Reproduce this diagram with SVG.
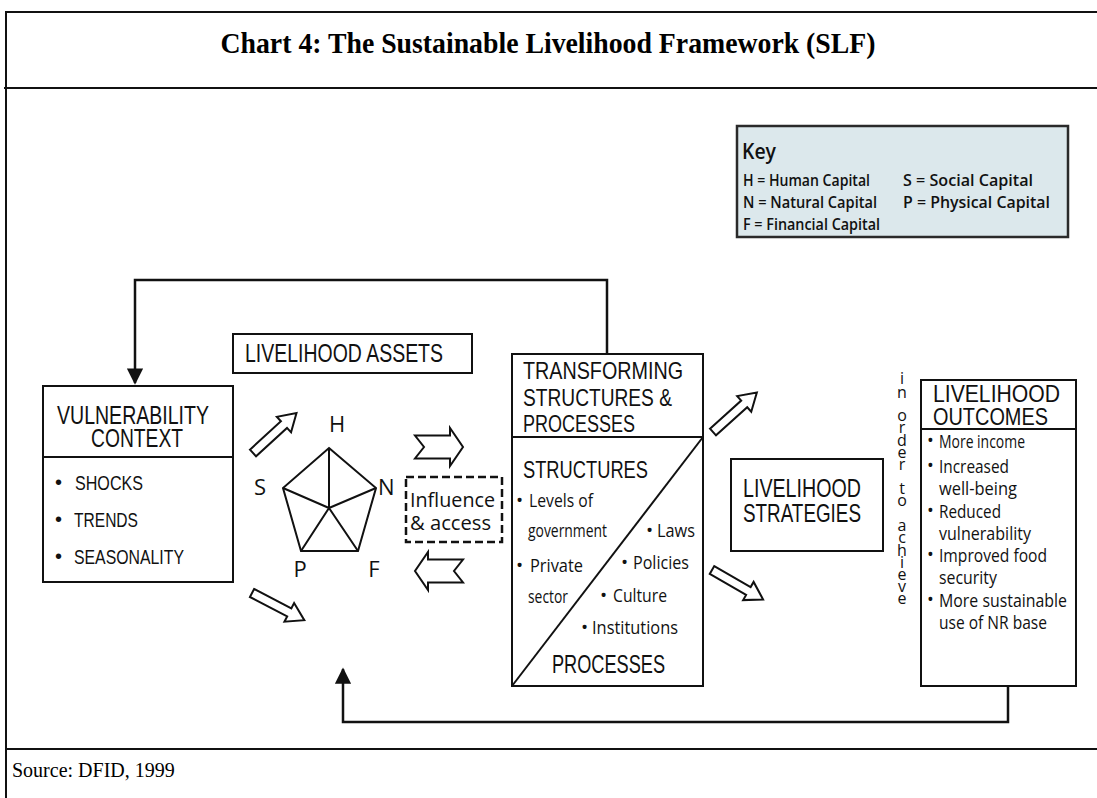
<svg xmlns="http://www.w3.org/2000/svg" width="1097" height="798" viewBox="0 0 1097 798">
<style>
.frame{stroke:#111;stroke-width:2;fill:none}
.box{fill:#fff;stroke:#111;stroke-width:2}
.hd{font-family:"Liberation Sans Narrow","Liberation Sans",Arial,sans-serif;fill:#111}
.tx{font-family:"Open Sans","Noto Sans",sans-serif;fill:#111}
.conn{fill:none;stroke:#111;stroke-width:2.5}
.blk{fill:#fff;stroke:#111;stroke-width:2;stroke-linejoin:miter}
.ln{stroke:#111;stroke-width:2;fill:none}
</style>
<defs>
<marker id="ah" viewBox="0 0 10 10" refX="9" refY="5" markerWidth="6.5" markerHeight="6.5" orient="auto" markerUnits="strokeWidth">
<path d="M0,0 L10,5 L0,10 Z" fill="#111"/>
</marker>
<path id="darrow" d="M0,-4.5 H42 V-10.5 L59,0 L42,10.5 V4.5 H0 Z"/>
<path id="chev" d="M0,-11.5 H35 V-19 L48,0 L35,19 V11.5 H0 L9,0 Z"/>
</defs>
<rect width="1097" height="798" fill="#fff"/>

<g id="frame">
<line class="frame" x1="6" y1="12" x2="1097" y2="12"/>
<line class="frame" x1="6" y1="11" x2="6" y2="798"/>
<line class="frame" x1="4" y1="88" x2="1097" y2="88"/>
<line class="frame" x1="6" y1="749" x2="1097" y2="749"/>
<text x="548" y="53" text-anchor="middle" font-family="'Liberation Serif','Times New Roman',serif" font-weight="bold" font-size="30" textLength="655" lengthAdjust="spacingAndGlyphs" fill="#000">Chart 4: The Sustainable Livelihood Framework (SLF)</text>
<text x="12" y="777" font-family="'Liberation Serif','Times New Roman',serif" font-size="20" fill="#000">Source: DFID, 1999</text>
</g>

<g id="key">
<rect x="737" y="126" width="331" height="111" fill="#dce8ec" stroke="#2a2a2a" stroke-width="2.5"/>
<text class="tx" x="742" y="159" font-size="22" font-weight="600" textLength="34" lengthAdjust="spacingAndGlyphs">Key</text>
<text class="tx" x="743" y="186" font-size="17" font-weight="600" textLength="127" lengthAdjust="spacingAndGlyphs">H = Human Capital</text>
<text class="tx" x="743" y="208" font-size="17" font-weight="600" textLength="134" lengthAdjust="spacingAndGlyphs">N = Natural Capital</text>
<text class="tx" x="743" y="230" font-size="17" font-weight="600" textLength="137" lengthAdjust="spacingAndGlyphs">F = Financial Capital</text>
<text class="tx" x="903" y="186" font-size="17" font-weight="600" textLength="130" lengthAdjust="spacingAndGlyphs">S = Social Capital</text>
<text class="tx" x="903" y="208" font-size="17" font-weight="600" textLength="147" lengthAdjust="spacingAndGlyphs">P = Physical Capital</text>
</g>

<g id="connectors">
<path class="conn" d="M607,353 V280 H135 V383" marker-end="url(#ah)"/>
<path class="conn" d="M1008,686 V722 H343 V669" marker-end="url(#ah)"/>
</g>

<g id="vulnerability">
<rect class="box" x="43" y="386" width="190" height="196"/>
<line class="ln" x1="43" y1="457" x2="233" y2="457"/>
<text class="hd" x="57" y="424" font-size="25" textLength="152" lengthAdjust="spacingAndGlyphs">VULNERABILITY</text>
<text class="hd" x="91" y="447" font-size="25" textLength="92" lengthAdjust="spacingAndGlyphs">CONTEXT</text>
<text class="hd" x="55" y="489" font-size="20">•</text>
<text class="hd" x="75" y="490" font-size="21" textLength="68" lengthAdjust="spacingAndGlyphs">SHOCKS</text>
<text class="hd" x="55" y="526" font-size="20">•</text>
<text class="hd" x="74" y="527" font-size="21" textLength="64" lengthAdjust="spacingAndGlyphs">TRENDS</text>
<text class="hd" x="55" y="563" font-size="20">•</text>
<text class="hd" x="74" y="564" font-size="21" textLength="110" lengthAdjust="spacingAndGlyphs">SEASONALITY</text>
</g>

<g id="assets-label">
<rect class="box" x="233" y="334" width="239" height="39"/>
<text class="hd" x="245" y="362" font-size="25" textLength="198" lengthAdjust="spacingAndGlyphs">LIVELIHOOD ASSETS</text>
</g>

<g id="pentagon">
<polygon points="329,448 376,488 358,551 301,551 283,488" fill="none" stroke="#111" stroke-width="2" stroke-linejoin="miter"/>
<path d="M329,508 L329,448 M329,508 L376,488 M329,508 L358,551 M329,508 L301,551 M329,508 L283,488" stroke="#111" stroke-width="2" fill="none"/>
<text class="tx" x="337" y="432" font-size="22" text-anchor="middle">H</text>
<text class="tx" x="260" y="495" font-size="22" text-anchor="middle">S</text>
<text class="tx" x="378" y="495" font-size="22">N</text>
<text class="tx" x="300" y="577" font-size="22" text-anchor="middle">P</text>
<text class="tx" x="374" y="577" font-size="22" text-anchor="middle">F</text>
</g>

<g id="block-arrows">
<use href="#darrow" class="blk" transform="translate(253,453) rotate(-42.5)"/>
<use href="#darrow" class="blk" transform="translate(252,593) rotate(27.5)"/>
<use href="#darrow" class="blk" transform="translate(713,432) rotate(-42)"/>
<use href="#darrow" class="blk" transform="translate(712,570) rotate(30)"/>
<use href="#chev" class="blk" transform="translate(415,447)"/>
<use href="#chev" class="blk" transform="translate(463,571) scale(-1,1)"/>
</g>

<g id="influence">
<rect x="406" y="477" width="96" height="65" fill="none" stroke="#111" stroke-width="2.5" stroke-dasharray="8,4"/>
<text class="tx" x="410" y="507" font-size="20" textLength="85" lengthAdjust="spacingAndGlyphs">Influence</text>
<text class="tx" x="410" y="530" font-size="20" textLength="81" lengthAdjust="spacingAndGlyphs">&amp; access</text>
</g>

<g id="transforming">
<rect class="box" x="512" y="354" width="191" height="332"/>
<line class="ln" x1="512" y1="437" x2="703" y2="437"/>
<line class="ln" x1="512" y1="686" x2="703" y2="437"/>
<text class="hd" x="523" y="379" font-size="24" textLength="160" lengthAdjust="spacingAndGlyphs">TRANSFORMING</text>
<text class="hd" x="523" y="406" font-size="24" textLength="149" lengthAdjust="spacingAndGlyphs">STRUCTURES &amp;</text>
<text class="hd" x="523" y="432" font-size="24" textLength="112" lengthAdjust="spacingAndGlyphs">PROCESSES</text>
<text class="hd" x="523" y="478" font-size="24" textLength="125" lengthAdjust="spacingAndGlyphs">STRUCTURES</text>
<text class="tx" x="516" y="507" font-size="19">•</text>
<text class="tx" x="529" y="507" font-size="19" textLength="64" lengthAdjust="spacingAndGlyphs">Levels of</text>
<text class="tx" x="528" y="537" font-size="18" textLength="79" lengthAdjust="spacingAndGlyphs">government</text>
<text class="tx" x="646" y="537" font-size="19">•</text>
<text class="tx" x="657" y="537" font-size="19" textLength="38" lengthAdjust="spacingAndGlyphs">Laws</text>
<text class="tx" x="516" y="572" font-size="19">•</text>
<text class="tx" x="530" y="572" font-size="19" textLength="53" lengthAdjust="spacingAndGlyphs">Private</text>
<text class="tx" x="621" y="569" font-size="19">•</text>
<text class="tx" x="633" y="569" font-size="19" textLength="56" lengthAdjust="spacingAndGlyphs">Policies</text>
<text class="tx" x="528" y="603" font-size="18" textLength="40" lengthAdjust="spacingAndGlyphs">sector</text>
<text class="tx" x="600" y="602" font-size="19">•</text>
<text class="tx" x="613" y="602" font-size="19" textLength="54" lengthAdjust="spacingAndGlyphs">Culture</text>
<text class="tx" x="581" y="634" font-size="19">•</text>
<text class="tx" x="592" y="634" font-size="19" textLength="86" lengthAdjust="spacingAndGlyphs">Institutions</text>
<text class="hd" x="552" y="673" font-size="25" textLength="113" lengthAdjust="spacingAndGlyphs">PROCESSES</text>
</g>

<g id="strategies">
<rect class="box" x="731" y="459" width="152" height="92"/>
<text class="hd" x="743" y="497" font-size="26" textLength="118" lengthAdjust="spacingAndGlyphs">LIVELIHOOD</text>
<text class="hd" x="743" y="522" font-size="26" textLength="118" lengthAdjust="spacingAndGlyphs">STRATEGIES</text>
</g>

<g id="in-order-to-achieve">
<text class="tx" font-size="16" text-anchor="middle"><tspan x="902" y="384">i</tspan><tspan x="902" y="398">n</tspan><tspan x="902" y="421">o</tspan><tspan x="902" y="433">r</tspan><tspan x="902" y="446">d</tspan><tspan x="902" y="458">e</tspan><tspan x="902" y="470">r</tspan><tspan x="902" y="494">t</tspan><tspan x="902" y="506">o</tspan><tspan x="902" y="531">a</tspan><tspan x="902" y="543">c</tspan><tspan x="902" y="556">h</tspan><tspan x="902" y="568">i</tspan><tspan x="902" y="580">e</tspan><tspan x="902" y="592">v</tspan><tspan x="902" y="604">e</tspan></text>
</g>

<g id="outcomes">
<rect class="box" x="921" y="380" width="155" height="306"/>
<line class="ln" x1="921" y1="429" x2="1076" y2="429"/>
<text class="hd" x="933" y="402" font-size="24" textLength="127" lengthAdjust="spacingAndGlyphs">LIVELIHOOD</text>
<text class="hd" x="933" y="425" font-size="24" textLength="115" lengthAdjust="spacingAndGlyphs">OUTCOMES</text>
<text class="tx" x="927" y="447" font-size="18">•</text>
<text class="tx" x="939" y="448" font-size="19" textLength="86" lengthAdjust="spacingAndGlyphs">More income</text>
<text class="tx" x="927" y="472" font-size="18">•</text>
<text class="tx" x="939" y="473" font-size="19" textLength="70" lengthAdjust="spacingAndGlyphs">Increased</text>
<text class="tx" x="939" y="495" font-size="19" textLength="78" lengthAdjust="spacingAndGlyphs">well-being</text>
<text class="tx" x="927" y="517" font-size="18">•</text>
<text class="tx" x="939" y="518" font-size="19" textLength="62" lengthAdjust="spacingAndGlyphs">Reduced</text>
<text class="tx" x="939" y="540" font-size="19" textLength="92" lengthAdjust="spacingAndGlyphs">vulnerability</text>
<text class="tx" x="927" y="561" font-size="18">•</text>
<text class="tx" x="939" y="562" font-size="19" textLength="108" lengthAdjust="spacingAndGlyphs">Improved food</text>
<text class="tx" x="939" y="584" font-size="19" textLength="58" lengthAdjust="spacingAndGlyphs">security</text>
<text class="tx" x="927" y="606" font-size="18">•</text>
<text class="tx" x="939" y="607" font-size="19" textLength="128" lengthAdjust="spacingAndGlyphs">More sustainable</text>
<text class="tx" x="939" y="629" font-size="19" textLength="108" lengthAdjust="spacingAndGlyphs">use of NR base</text>
</g>
</svg>
